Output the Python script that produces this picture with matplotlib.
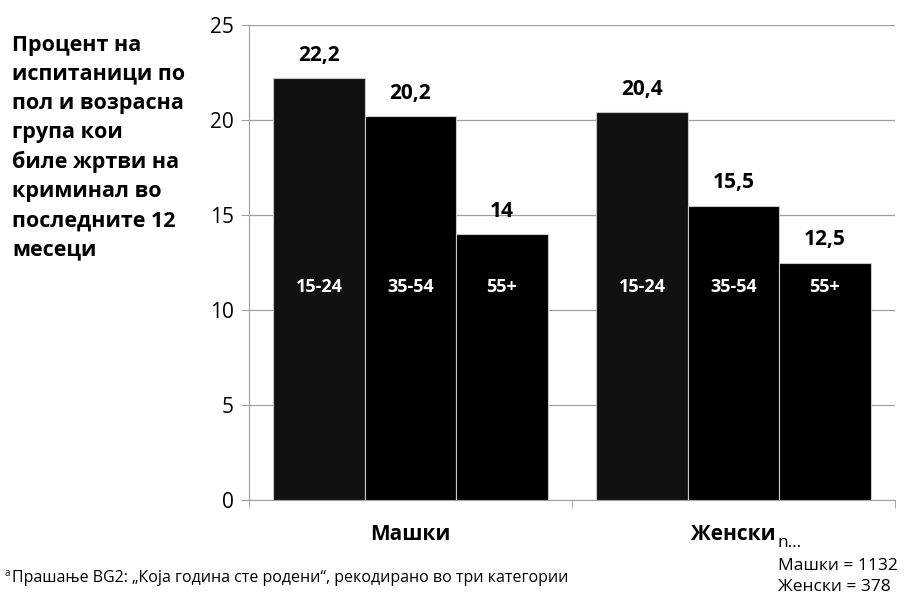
import numpy as np
import matplotlib
matplotlib.use('Agg')
from matplotlib import pyplot as plt

plt.rcParams['font.family'] = ['Open Sans', 'DejaVu Sans']

groups = ['Машки', 'Женски']
ages = ['15-24', '35-54', '55+']
values = [[22.2, 20.2, 14.0],
          [20.4, 15.5, 12.5]]
value_labels = [['22,2', '20,2', '14'],
                ['20,4', '15,5', '12,5']]
bar_colors = ['#111111', '#000000', '#000000']
yticks = [0, 5, 10, 15, 20, 25]

fig = plt.figure(figsize=(9.17, 5.97), dpi=100)
ax = fig.add_axes([0.2715, 0.1625, 0.7045, 0.7955])

w = 0.283
x = np.arange(len(groups))
for j in range(len(ages)):
    xs = x + (j - 1) * w
    vals = [values[i][j] for i in range(len(groups))]
    ax.bar(xs, vals, width=w, color=bar_colors[j], edgecolor='#c8c8c8', linewidth=0.8, zorder=3)
    for i in range(len(groups)):
        ax.text(xs[i], vals[i] + 0.65, value_labels[i][j], ha='center', va='bottom',
                fontsize=15, fontweight='bold', zorder=4)
        ax.text(xs[i], 11.2, ages[j], ha='center', va='center', color='white',
                fontsize=13, fontweight='bold', zorder=4)

ax.set_xlim(-0.5, 1.5)
ax.set_ylim(0, 25)
ax.set_yticks(yticks)
ax.set_yticklabels([str(t) for t in yticks], fontsize=15)
ax.yaxis.grid(True, color='#a0a0a0', linewidth=0.9, zorder=0)
ax.set_axisbelow(True)

ax.set_xticks(x)
ax.set_xticklabels(groups, fontsize=15, fontweight='bold')
ax.tick_params(axis='x', length=0, pad=17)
ax.set_xticks([-0.5, 0.5, 1.5], minor=True)
ax.tick_params(axis='x', which='minor', length=6, color='#a0a0a0')
ax.tick_params(axis='y', length=6, color='#a0a0a0', pad=5)

for s in ['top', 'right']:
    ax.spines[s].set_visible(False)
for s in ['left', 'bottom']:
    ax.spines[s].set_color('#a0a0a0')

fig.text(0.013, 0.942, 'Процент на\nиспитаници по\nпол и возрасна\nгрупа кои\nбиле жртви на\nкриминал во\nпоследните 12\nмесеци',
         ha='left', va='top', fontsize=15.5, fontweight='bold', linespacing=1.5)

fig.text(0.848, 0.090, 'n...', ha='left', va='center', fontsize=12.5)
fig.text(0.848, 0.052, 'Машки = 1132', ha='left', va='center', fontsize=12.5)
fig.text(0.848, 0.016, 'Женски = 378', ha='left', va='center', fontsize=12.5)
fig.text(0.013, 0.032, 'Прашање BG2: „Која година сте родени“, рекодирано во три категории',
         ha='left', va='center', fontsize=11.5)
fig.text(0.005, 0.040, 'a', ha='left', va='center', fontsize=7)

plt.savefig('out.png', dpi=100)
